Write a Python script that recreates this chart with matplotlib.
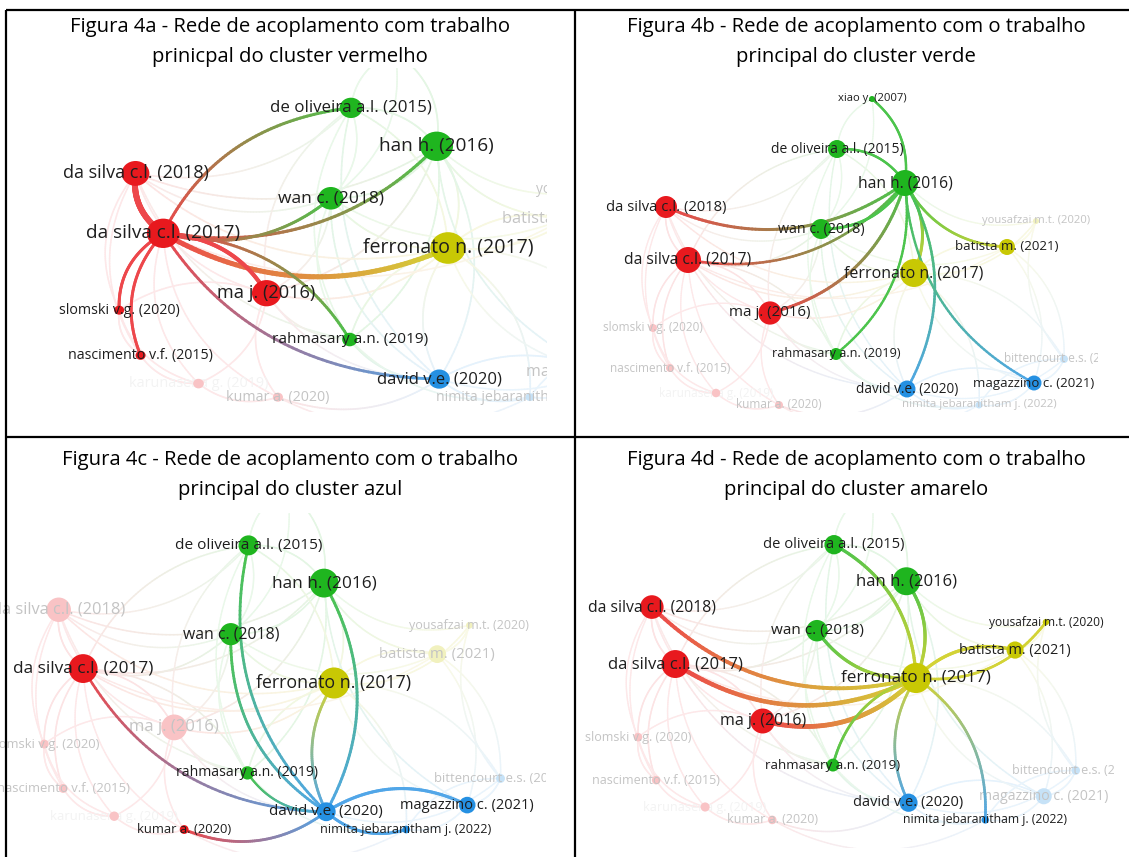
import numpy as np
import matplotlib
matplotlib.use("Agg")
import matplotlib.pyplot as plt
from matplotlib.collections import LineCollection
from matplotlib.patches import Ellipse
from matplotlib.colors import to_rgb

# ---------------------------------------------------------------- data
keys = ["dasilva17", "dasilva18", "ma", "slomski", "nascimento", "kumar",
        "karunasena", "han", "deoliveira", "wan", "rahmasary", "xiao",
        "ferronato", "batista", "yousafzai", "david", "magazzino",
        "nimita", "bittencourt"]

labels = ["da silva c.l. (2017)", "da silva c.l. (2018)", "ma j. (2016)",
          "slomski v.g. (2020)", "nascimento v.f. (2015)", "kumar a. (2020)",
          "karunasena g. (2019)", "han h. (2016)", "de oliveira a.l. (2015)",
          "wan c. (2018)", "rahmasary a.n. (2019)", "xiao y. (2007)",
          "ferronato n. (2017)", "batista m. (2021)", "yousafzai m.t. (2020)",
          "david v.e. (2020)", "magazzino c. (2021)",
          "nimita jebaranitham j. (2022)", "bittencourt e.s. (2021)"]

clusters = ["red", "red", "red", "red", "red", "red", "red",
            "green", "green", "green", "green", "green",
            "yellow", "yellow", "yellow",
            "blue", "blue", "blue", "blue"]

# map coordinates of the coupling network
layout_x = [-2.26, -2.48, -1.44, -2.61, -2.44, -1.35, -1.98,
            -0.09, -0.77, -0.93, -0.78, -0.42,
            0.00, 0.93, 1.22,
            -0.07, 1.20, 0.65, 1.50]
layout_y = [0.13, 0.66, -0.40, -0.55, -0.95, -1.32, -1.20,
            0.90, 1.24, 0.44, -0.81, 1.74,
            0.00, 0.26, 0.52,
            -1.16, -1.10, -1.32, -0.86]

# item weights (circle area)
weights = [169, 121, 135, 16, 16, 16, 18,
           169, 81, 100, 36, 9,
           196, 64, 9,
           72, 56, 12, 16]

# coupling links: (from, to, link strength)
links = [
    ("dasilva18", "dasilva17", 5.0), ("deoliveira", "dasilva17", 2.5),
    ("dasilva17", "han", 2.6), ("dasilva17", "wan", 2.5),
    ("dasilva17", "ferronato", 4.2), ("ma", "dasilva17", 3.4),
    ("rahmasary", "dasilva17", 2.4), ("dasilva17", "david", 2.4),
    ("dasilva17", "slomski", 2.5), ("dasilva17", "nascimento", 2.5),
    ("han", "xiao", 2.4), ("han", "deoliveira", 2.4),
    ("dasilva18", "han", 3.0), ("wan", "han", 2.8), ("ma", "han", 3.0),
    ("ferronato", "han", 3.0), ("han", "batista", 2.6),
    ("rahmasary", "han", 2.4), ("david", "han", 2.6), ("han", "magazzino", 2.4),
    ("deoliveira", "david", 2.5), ("wan", "david", 2.5),
    ("ferronato", "david", 2.5), ("kumar", "david", 2.5),
    ("david", "nimita", 2.6), ("magazzino", "david", 2.8),
    ("rahmasary", "david", 2.0),
    ("ferronato", "deoliveira", 3.0), ("dasilva18", "ferronato", 3.6),
    ("ma", "ferronato", 4.4), ("wan", "ferronato", 3.0),
    ("ferronato", "rahmasary", 2.5), ("nimita", "ferronato", 2.5),
    ("batista", "ferronato", 3.0), ("ferronato", "yousafzai", 2.5),
]

other_links = [
    ("dasilva18", "ma"), ("dasilva18", "wan"), ("dasilva18", "slomski"),
    ("dasilva18", "nascimento"), ("dasilva18", "rahmasary"), ("ma", "slomski"),
    ("ma", "kumar"), ("karunasena", "ma"), ("ma", "wan"), ("ma", "rahmasary"),
    ("ma", "david"), ("slomski", "nascimento"), ("nascimento", "karunasena"),
    ("karunasena", "kumar"), ("slomski", "karunasena"), ("wan", "deoliveira"),
    ("wan", "rahmasary"), ("deoliveira", "rahmasary"), ("xiao", "deoliveira"),
    ("wan", "xiao"), ("batista", "yousafzai"), ("bittencourt", "batista"),
    ("magazzino", "batista"), ("magazzino", "bittencourt"),
    ("nimita", "magazzino"), ("bittencourt", "nimita"), ("david", "bittencourt"),
    ("rahmasary", "nimita"), ("ferronato", "magazzino"),
    ("bittencourt", "ferronato"), ("yousafzai", "bittencourt"),
    ("kumar", "nimita"), ("dasilva17", "kumar"), ("dasilva17", "karunasena"),
    ("deoliveira", "ma"), ("han", "yousafzai"), ("wan", "batista"),
    ("dasilva18", "deoliveira"), ("dasilva17", "batista"),
]

panel_titles = [
    ("Figura 4a - Rede de acoplamento com trabalho",
     "prinicpal do cluster vermelho"),
    ("Figura 4b - Rede de acoplamento com o trabalho",
     "principal do cluster verde"),
    ("Figura 4c - Rede de acoplamento com o trabalho",
     "principal do cluster azul"),
    ("Figura 4d - Rede de acoplamento com o trabalho",
     "principal do cluster amarelo"),
]
panel_focus = ["dasilva17", "han", "david", "ferronato"]

# ---------------------------------------------------------------- style
W, H = 1129, 857
cluster_colors = {"red": "#e8191e", "green": "#1fb51f",
                  "yellow": "#c8c804", "blue": "#2590e2"}
dim_labels = {"karunasena"}

# per panel: map centre (px), scale x/y (px per map unit), visible window (px)
views = [
    dict(cx=448, cy=248, sx=126, sy=113, win=(8, 68, 547, 412)),
    dict(cx=914, cy=273, sx=100, sy=100, win=(578, 68, 1098, 412)),
    dict(cx=334, cy=683, sx=111, sy=111, win=(0, 513, 546, 852)),
    dict(cx=916, cy=678, sx=106.5, sy=107.5, win=(578, 513, 1114, 848)),
]
title_pos = [(290, 27), (856, 27), (290, 460), (856, 460)]

plt.rcParams["font.family"] = ["Open Sans", "DejaVu Sans"]

idx = {k: i for i, k in enumerate(keys)}
pos = np.column_stack([layout_x, layout_y])
rgb = np.array([to_rgb(cluster_colors[c]) for c in clusters])


def blend(c, a):
    return 1.0 - a * (1.0 - np.asarray(c))


def curve(p0, p2, k=0.28, n=70):
    d = p2 - p0
    ctrl = (p0 + p2) / 2 + k * np.array([d[1], -d[0]])
    t = np.linspace(0, 1, n)[:, None]
    return (1 - t) ** 2 * p0 + 2 * (1 - t) * t * ctrl + t ** 2 * p2


def draw_link(ax, a, b, lw, strength, zorder):
    pts = curve(pos[a], pos[b])
    segs = np.stack([pts[:-1], pts[1:]], axis=1)
    t = np.linspace(0, 1, len(segs))[:, None]
    cols = blend((1 - t) * rgb[a] + t * rgb[b], strength)
    lc = LineCollection(segs, colors=cols, linewidths=lw,
                        capstyle="round", zorder=zorder)
    ax.add_collection(lc)


fig = plt.figure(figsize=(W / 100, H / 100), dpi=100)
fig.patch.set_facecolor("white")

for p, view in enumerate(views):
    x0, y0, x1, y1 = view["win"]
    cx, cy, sx, sy = view["cx"], view["cy"], view["sx"], view["sy"]
    ax = fig.add_axes([x0 / W, 1 - y1 / H, (x1 - x0) / W, (y1 - y0) / H])
    ax.set_xlim((x0 - cx) / sx, (x1 - cx) / sx)
    ax.set_ylim((cy - y1) / sy, (cy - y0) / sy)
    ax.axis("off")
    ax.patch.set_alpha(0)
    scale = np.sqrt(sx * sy) / 100.0
    text_scale = (sx ** 0.7 * sy ** 0.3) / 100.0

    focus = idx[panel_focus[p]]
    active = {focus}
    for a, b, s in links:
        if focus in (idx[a], idx[b]):
            active |= {idx[a], idx[b]}

    # background links
    for a, b, s in links:
        ia, ib = idx[a], idx[b]
        if focus in (ia, ib):
            continue
        draw_link(ax, ia, ib, 1.4 * scale * 0.72, 0.12, 1)
    for a, b in other_links:
        draw_link(ax, idx[a], idx[b], 1.3 * scale * 0.72, 0.10, 1)

    # links of the selected item
    for a, b, s in links:
        ia, ib = idx[a], idx[b]
        if focus in (ia, ib):
            draw_link(ax, ia, ib, s * scale * 0.72, 0.8, 3)

    # items
    for i in range(len(keys)):
        r = np.sqrt(weights[i]) / 100.0
        on = i in active
        col = rgb[i] if on else blend(rgb[i], 0.26)
        ax.add_patch(Ellipse(pos[i], 2 * r, 2 * r, facecolor=col,
                             edgecolor="none", zorder=4 if on else 2))
        em = (10 + 0.43 * np.sqrt(weights[i])) * text_scale
        if on:
            tc, z = "#1e1e1e", 6
        elif keys[i] in dim_labels:
            tc, z = "#f3f3f3", 1.5
        else:
            tc, z = "#c4c4c4", 2.5
        ax.text(pos[i, 0], pos[i, 1], labels[i], ha="center", va="center",
                fontsize=em * 0.72, color=tc, zorder=z, clip_on=True)

    tx, ty = title_pos[p]
    for j, line in enumerate(panel_titles[p]):
        fig.text(tx / W, 1 - (ty + 30 * j) / H, line, ha="center",
                 va="center", fontsize=14.6, color="black")

# table rules
rule = dict(color="black", linewidth=1.6, solid_capstyle="butt", zorder=10)
border = fig.add_axes([0, 0, 1, 1])
border.set_xlim(0, W)
border.set_ylim(H, 0)
border.axis("off")
border.patch.set_alpha(0)
border.plot([6, W], [10, 10], **rule)
border.plot([6, 6], [10, H], **rule)
border.plot([575, 575], [10, H], **rule)
border.plot([6, W], [437, 437], **rule)

fig.savefig("out.png", dpi=100, facecolor="white")
